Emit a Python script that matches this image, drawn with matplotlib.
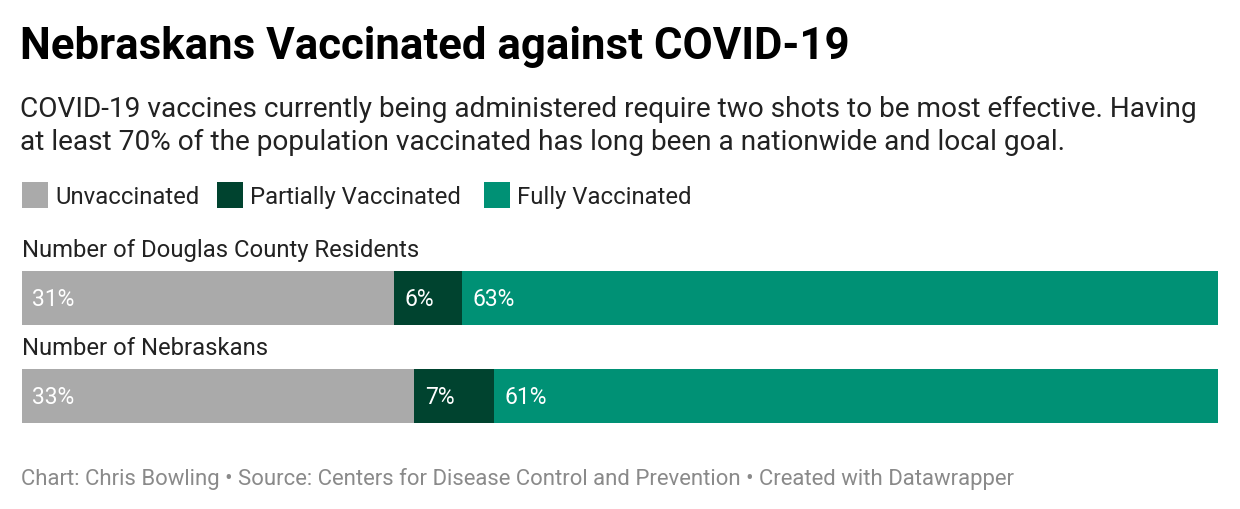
import matplotlib
matplotlib.use("Agg")
import matplotlib.pyplot as plt
from matplotlib.patches import Rectangle

plt.rcParams['font.family'] = ['Roboto', 'DejaVu Sans']

categories = ["Number of Douglas County Residents", "Number of Nebraskans"]
series = ["Unvaccinated", "Partially Vaccinated", "Fully Vaccinated"]
unvaccinated = [31.1, 32.8]
partial = [5.7, 6.7]
fully = [63.2, 60.5]
labels = [["31%", "6%", "63%"], ["33%", "7%", "61%"]]

COLORS = ['#aaaaaa', '#00432f', '#009175']
W, H = 1240, 510

fig = plt.figure(figsize=(W / 100, H / 100), dpi=100)

def px(x, y):
    return x / W, 1 - y / H

fig.text(*px(20, 47), "Nebraskans Vaccinated against COVID-19", fontsize=31.5,
         fontweight='bold', va='center', ha='left', color='#000000')
fig.text(*px(20, 109), "COVID-19 vaccines currently being administered require two shots to be most effective. Having",
         fontsize=20.2, va='center', ha='left', color='#222222')
fig.text(*px(20, 142), "at least 70% of the population vaccinated has long been a nationwide and local goal.",
         fontsize=20.2, va='center', ha='left', color='#222222')

# legend
lx = [22, 217, 484]
for i, name in enumerate(series):
    x0, y0 = px(lx[i], 209)
    fig.patches.append(Rectangle((x0, y0), 26 / W, 26 / H, transform=fig.transFigure,
                                 facecolor=COLORS[i], edgecolor='none'))
    fig.text(*px(lx[i] + 33, 198), name, fontsize=17.2, va='center', ha='left', color='#222222')

# bars
ax = fig.add_axes([22 / W, 1 - 424 / H, 1196 / W, 152 / H])
half = 0.5 * 54 / 98
ax.set_ylim(1 + half, -half)
ax.set_xlim(0, 100)
ax.axis('off')

ys = list(range(len(categories)))
left = [0] * len(categories)
for k, vals in enumerate([unvaccinated, partial, fully]):
    ax.barh(ys, vals, left=left, height=2 * half, color=COLORS[k], edgecolor='none')
    for j, v in enumerate(vals):
        ax.annotate(labels[j][k], (left[j], ys[j]), xytext=(7.5, 0), textcoords='offset points',
                    va='center', ha='left', color='white', fontsize=16.5)
    left = [l + v for l, v in zip(left, vals)]

for j, cat in enumerate(categories):
    ax.annotate(cat, (0, ys[j] - half), xytext=(0, 7), textcoords='offset points',
                va='bottom', ha='left', color='#222222', fontsize=17.2, annotation_clip=False)

fig.text(*px(21, 479), "Chart: Chris Bowling \u2022 Source: Centers for Disease Control and Prevention \u2022 Created with Datawrapper",
         fontsize=15.9, va='center', ha='left', color='#8a8a8a')

fig.savefig("out.png", dpi=100, facecolor='white')
